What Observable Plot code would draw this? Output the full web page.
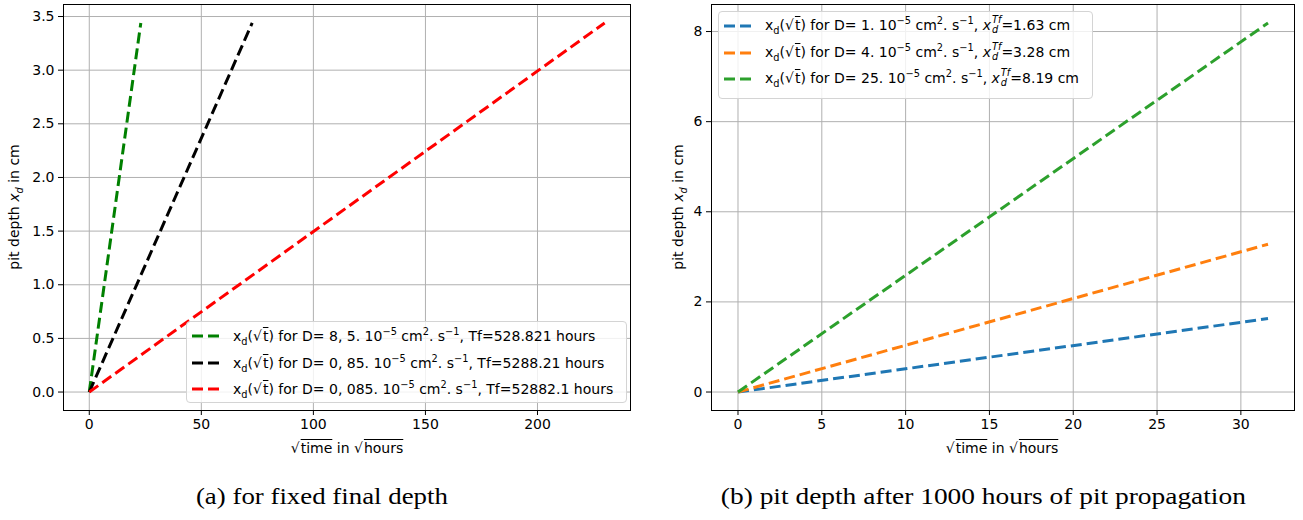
<!DOCTYPE html>
<html><head><meta charset="utf-8">
<script src="https://cdn.jsdelivr.net/npm/d3@7"></script>
<script src="https://cdn.jsdelivr.net/npm/@observablehq/plot@0.6"></script>
<style>
body{margin:0;background:#fff;font-family:"DejaVu Sans",sans-serif;color:#000}
#root{position:relative;width:1303px;height:520px;overflow:hidden;background:#fff}
.panel{position:absolute;top:0}
.lab{position:absolute;white-space:nowrap;font-size:14px;line-height:16px}
.ylab{transform:translate(-50%,-50%) rotate(-90deg)}
.xlab{transform:translate(-50%,-50%)}
.ov{text-decoration:overline;text-decoration-thickness:1px;padding-left:1px}
.legend{position:absolute;border:1px solid #d4d4d4;border-radius:4px;background:rgba(255,255,255,0.82);font-size:14px;box-sizing:border-box;padding:1px 6px 0 5px}
.row{display:flex;align-items:center;height:26.4px;white-space:nowrap}
.row svg{margin-right:11px;flex:none}
sub,sup{font-size:70%;line-height:0}
.ss{display:inline-flex;flex-direction:column;vertical-align:middle;font-size:70%;line-height:1;font-style:italic;margin-left:1px;position:relative;top:-1px}
.cap{position:absolute;transform-origin:50% 50%;white-space:nowrap;font-family:"Liberation Serif",serif;font-size:23px;line-height:26px}
</style></head>
<body><div id="root"></div>
<script>
// ---- data: panel (a) fixed final depth ----
const leftLabels = [
  'x<sub>d</sub>(√<span class="ov">t</span>) for D= 8, 5. 10<sup>−5</sup> cm<sup>2</sup>. s<sup>−1</sup>, Tf=528.821 hours',
  'x<sub>d</sub>(√<span class="ov">t</span>) for D= 0, 85. 10<sup>−5</sup> cm<sup>2</sup>. s<sup>−1</sup>, Tf=5288.21 hours',
  'x<sub>d</sub>(√<span class="ov">t</span>) for D= 0, 085. 10<sup>−5</sup> cm<sup>2</sup>. s<sup>−1</sup>, Tf=52882.1 hours'
];
const leftColors = ["#008000", "#000000", "#ff0000"];
const leftSqrtTime = [[0, 23.0], [0, 72.7], [0, 229.96]];
const leftDepth = [[0, 3.44], [0, 3.44], [0, 3.44]];
const leftXTicks = [0, 50, 100, 150, 200];
const leftYTicks = [0, 0.5, 1.0, 1.5, 2.0, 2.5, 3.0, 3.5];

// ---- data: panel (b) after 1000 hours ----
const rightLabels = [
  'x<sub>d</sub>(√<span class="ov">t</span>) for D= 1. 10<sup>−5</sup> cm<sup>2</sup>. s<sup>−1</sup>, <i>x</i><span class="ss"><span>Tf</span><span>d</span></span>=1.63 cm',
  'x<sub>d</sub>(√<span class="ov">t</span>) for D= 4. 10<sup>−5</sup> cm<sup>2</sup>. s<sup>−1</sup>, <i>x</i><span class="ss"><span>Tf</span><span>d</span></span>=3.28 cm',
  'x<sub>d</sub>(√<span class="ov">t</span>) for D= 25. 10<sup>−5</sup> cm<sup>2</sup>. s<sup>−1</sup>, <i>x</i><span class="ss"><span>Tf</span><span>d</span></span>=8.19 cm'
];
const rightColors = ["#1f77b4", "#ff7f0e", "#2ca02c"];
const rightSqrtTime = [[0, 31.62], [0, 31.62], [0, 31.62]];
const rightDepth = [[0, 1.63], [0, 3.28], [0, 8.19]];
const rightXTicks = [0, 5, 10, 15, 20, 25, 30];
const rightYTicks = [0, 2, 4, 6, 8];

const yLabelHtml = 'pit depth <i>x<sub>d</sub></i> in cm';
const xLabelHtml = '√<span class="ov">time</span> in √<span class="ov">hours</span>';
const captions = ["(a) for fixed final depth", "(b) pit depth after 1000 hours of pit propagation"];

const DASH = "11,5";
function rows(xs, ys) {
  const out = [];
  xs.forEach((xa, i) => xa.forEach((x, j) => out.push({series: i, x, y: ys[i][j]})));
  return out;
}

function makePlot(cfg) {
  const data = rows(cfg.xs, cfg.ys);
  return Plot.plot({
    width: cfg.width, height: 460,
    marginLeft: cfg.ml, marginRight: cfg.mr, marginTop: 4, marginBottom: 50,
    style: {fontFamily: "DejaVu Sans, sans-serif", fontSize: "14px", background: "white", color: "black"},
    x: {domain: cfg.xdom, label: null},
    y: {domain: cfg.ydom, label: null},
    marks: [
      Plot.gridX(cfg.xticks, {stroke: "#b0b0b0", strokeOpacity: 1, strokeWidth: 1}),
      Plot.gridY(cfg.yticks, {stroke: "#b0b0b0", strokeOpacity: 1, strokeWidth: 1}),
      Plot.axisX({ticks: cfg.xticks, tickSize: 5, tickPadding: 4, tickFormat: d3.format("d"), fontSize: 14, stroke: "black"}),
      Plot.axisY({ticks: cfg.yticks, tickSize: 5, tickPadding: 4, tickFormat: cfg.yfmt, fontSize: 14, stroke: "black"}),
      Plot.line(data, {x: "x", y: "y", z: "series", stroke: d => cfg.colors[d.series], strokeWidth: 3, strokeDasharray: DASH, strokeLinecap: "butt"}),
      Plot.frame({stroke: "black", strokeWidth: 1})
    ]
  });
}

const root = document.getElementById("root");
function addPanel(cfg) {
  const div = document.createElement("div");
  div.className = "panel";
  div.style.left = cfg.left + "px";
  div.appendChild(makePlot(cfg));
  root.appendChild(div);
  const yl = document.createElement("div");
  yl.className = "lab ylab"; yl.innerHTML = yLabelHtml;
  yl.style.left = cfg.ylx + "px"; yl.style.top = "207px";
  root.appendChild(yl);
  const xl = document.createElement("div");
  xl.className = "lab xlab"; xl.innerHTML = xLabelHtml;
  xl.style.left = cfg.xlx + "px"; xl.style.top = "448px";
  root.appendChild(xl);
  const lg = document.createElement("div");
  lg.className = "legend";
  Object.assign(lg.style, cfg.legendPos);
  cfg.labels.forEach((t, i) => {
    const r = document.createElement("div");
    r.className = "row";
    r.innerHTML = `<svg width="30" height="6"><line x1="0" y1="3" x2="30" y2="3" stroke="${cfg.colors[i]}" stroke-width="3" stroke-dasharray="${DASH}"/></svg><span>${t}</span>`;
    lg.appendChild(r);
  });
  root.appendChild(lg);
  const cap = document.createElement("div");
  cap.className = "cap"; cap.textContent = cfg.caption;
  root.appendChild(cap);
  const w = cap.getBoundingClientRect().width;
  const h = cap.getBoundingClientRect().height;
  cap.style.left = (cfg.capx - w / 2) + "px";
  cap.style.top = (497 - h / 2) + "px";
  cap.style.transform = `scaleX(${cfg.capw / w})`;
}

addPanel({
  left: 0, width: 650, ml: 63, mr: 20,
  xdom: [-11.5, 241.5], ydom: [-0.172, 3.612],
  xs: leftSqrtTime, ys: leftDepth, labels: leftLabels, colors: leftColors,
  xticks: leftXTicks, yticks: leftYTicks, yfmt: d3.format(".1f"),
  ylx: 14, xlx: 347,
  legendPos: {left: "186px", top: "321px", width: "441px", height: "82px"},
  caption: captions[0], capx: 322, capw: 252
});
addPanel({
  left: 650, width: 653, ml: 61, mr: 9,
  xdom: [-1.58, 33.2], ydom: [-0.41, 8.6],
  xs: rightSqrtTime, ys: rightDepth, labels: rightLabels, colors: rightColors,
  xticks: rightXTicks, yticks: rightYTicks, yfmt: d3.format("d"),
  ylx: 678, xlx: 1002,
  legendPos: {left: "718px", top: "11px", width: "375px", height: "88px"},
  caption: captions[1], capx: 983, capw: 525
});
</script></body></html>
